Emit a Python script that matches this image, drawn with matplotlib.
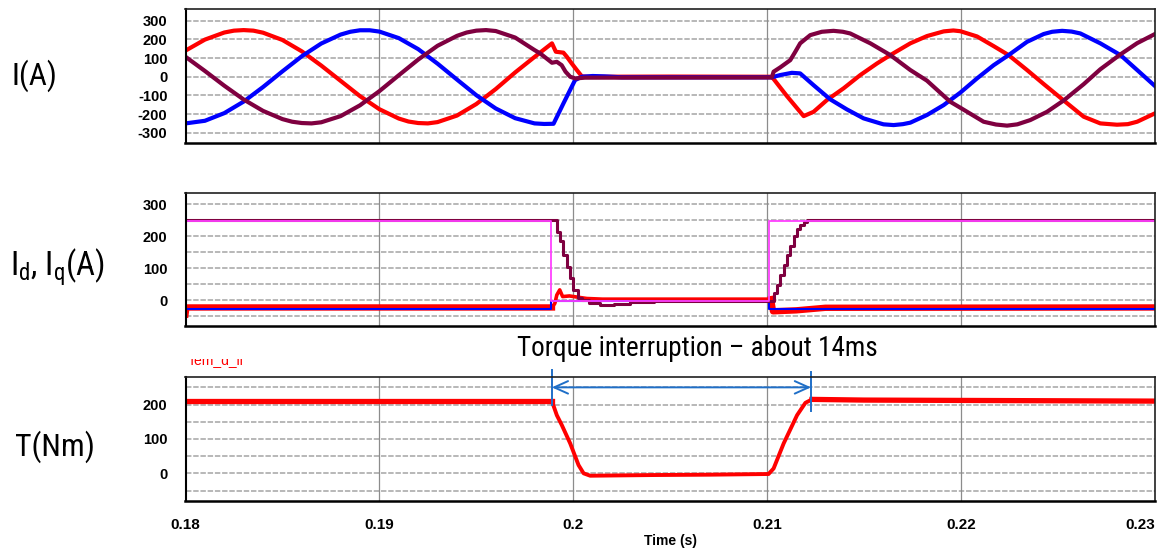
import matplotlib
matplotlib.use("Agg")
import matplotlib.pyplot as plt
from matplotlib import font_manager
from matplotlib.font_manager import FontProperties
from matplotlib.transforms import Bbox, TransformedBbox
import numpy as np

# phase currents (time in ms, current in A)
ia_t = [180, 181, 182, 182.5, 183, 183.5, 184, 185, 186, 187, 188, 189, 190, 191, 191.5, 192, 192.5, 193,
        194, 195, 196, 197, 198,
        198.9, 199.1, 199.49, 199.66, 199.92, 200.18, 200.44, 200.8, 205, 210.24,
        211.02, 211.88, 212.39, 213.08, 213.94, 214.80, 215.66, 216.35, 217.38, 218.24, 219.10, 219.6,
        219.96, 220.82, 221.68, 222.45, 223.40, 224.26, 225.29, 226.32, 227.18, 228.04, 228.6, 229.08, 230.0]
ia = [140, 199, 237, 247, 250, 247, 236, 197, 136, 60, -22, -104, -174, -224, -240, -248, -250, -243,
      -208, -146, -66, 23, 106,
      179, 134, 129, 108, 71, 36, 2, 0, 1, 0,
      -104, -211, -188, -125, -62, 9, 71, 116, 179, 218, 243, 248,
      244, 216, 164, 116, 36, -39, -127, -214, -250, -257, -254, -241, -196]

ib_t = [180, 181, 182, 183, 184, 185, 186, 187, 188, 188.5, 189, 189.5, 190, 191, 192, 193, 194, 195, 196,
        197, 198, 198.5, 198.98, 199.5, 200.09, 200.44, 201.0, 201.6, 202.5, 210.24,
        210.67, 211.27, 211.70, 212.39, 213.25, 214.11, 214.97, 215.83, 216.0, 216.52, 217.0, 217.38,
        218.24, 219.10, 219.96, 220.82, 221.68, 222.45, 223.40, 224.26, 224.7, 225.21, 225.7, 226.15,
        227.18, 228.22, 229.08, 230.0]
ib = [-250, -236, -195, -133, -55, 29, 110, 178, 226, 241, 249, 249, 242, 207, 148, 70, -15, -99, -170,
      -222, -250, -253, -252, -141, -18, 0, 4, 2, -3, -3,
      9, 21, 18, -45, -121, -175, -223, -250, -255, -259, -254, -246,
      -205, -152, -85, -9, 62, 116, 187, 229, 241, 246, 242, 232,
      179, 116, 36, -50]

ic_t = [180, 181, 182, 183, 184, 185, 185.5, 186, 186.5, 187, 188, 189, 190, 191, 192, 193, 194, 194.5,
        195, 195.5, 196, 197, 198,
        198.29, 198.9, 199.15, 199.4, 199.6, 199.84, 200.1, 200.6, 210.24,
        210.33, 210.67, 211.19, 211.45, 211.70, 212.22, 212.82, 213.42, 213.9, 214.28, 215.32, 216.35,
        217.38, 218.24, 219.44, 219.96, 221.16, 221.8, 222.37, 222.9, 223.57, 224.43, 225.29, 226.32,
        227.18, 228.22, 229.08, 230.0]
ic = [107, 31, -48, -122, -183, -227, -241, -248, -250, -244, -211, -153, -77, 8, 92, 166, 219, 237,
      247, 250, 245, 210, 143,
      125, 75, 80, 62, 27, 0, -9, -5, -4,
      27, 50, 89, 134, 179, 223, 241, 246, 241, 232, 179, 116,
      36, -21, -134, -166, -241, -256, -262, -255, -232, -188, -127, -40,
      40, 120, 180, 229]

# dq currents: measured Id (red), reference Id (blue), measured Iq (maroon), reference Iq (magenta)
id_t = [180, 180.05, 198.9, 199.05, 199.15, 199.3, 199.45, 199.8, 200.7, 201.5, 210.2, 210.3, 211.5, 213, 230]
id_meas = [-45, -23, -23, -10, 16, 32, 11, 13, 5, 3, 3, -35, -32, -24, -23]

idref_t = [180, 198.86, 210.08, 230]
idref = [-29, -2, -29, -29]

iq_t = [180, 199.15, 199.32, 199.46, 199.67, 199.84, 200.01, 200.22, 200.44, 200.79, 201.39, 202.08,
        202.94, 204.14, 210.33, 210.50, 210.68, 210.85, 211.02, 211.19, 211.36, 211.54, 211.71, 211.88,
        212.05, 230]
iq_meas = [250, 213, 184, 142, 103, 68, 32, 8, 0, -8, -14, -13,
           -6, -3, 21, 47, 79, 110, 142, 168, 200, 221, 234, 244,
           250, 250]

iqref_t = [180, 198.86, 210.08, 230]
iqref = [247, -4, 247, 247]

# electromagnetic torque (Nm)
te_t = [180, 198.89, 199.15, 199.41, 199.84, 200.27, 200.53, 200.87, 204.14, 207, 210.07, 210.33,
        210.85, 211.54, 211.97, 212.31, 215, 220, 225, 230]
te = [211, 211, 169, 140, 87, 24, 0, -7, -5, -4, -2, 14,
      87, 169, 205, 215, 213, 212, 211, 210]

interruption = (198.89, 212.26)

x_ticks = [0.18, 0.19, 0.2, 0.21, 0.22, 0.23]
x_labels = ["0.18", "0.19", "0.2", "0.21", "0.22", "0.23"]


def narrow_font():
    # look for an Arial-Narrow-like face, otherwise fall back to Roboto
    prefs = ["Liberation Sans Narrow", "Roboto Condensed", "Open Sans Condensed", "Noto Sans Condensed",
             "DejaVu Sans Condensed"]
    found = {}
    for f in font_manager.fontManager.ttflist:
        key = f.name
        base = f.fname.rsplit("/", 1)[-1].lower()
        if "condensed" in base and "dejavusans" in base and "bold" not in base and "oblique" not in base:
            key = "DejaVu Sans Condensed"
        if f.style == "normal" and f.weight in (400, "normal", "regular", "book"):
            found.setdefault(key, f.fname)
    for p in prefs:
        if p in found:
            return FontProperties(fname=found[p])
    return FontProperties(family="Roboto")


label_font = narrow_font()
plt.rcParams["font.family"] = ["Liberation Sans", "DejaVu Sans"]
plt.rcParams["mathtext.default"] = "regular"

W, H = 1158, 551
fig = plt.figure(figsize=(W / 100, H / 100), dpi=100)
renderer = fig.canvas.get_renderer()


def box(x0, y0, x1, y1):
    return [x0 / W, 1 - y1 / H, (x1 - x0) / W, (y1 - y0) / H]


def fitted_text(x, y, s, width, size, ha="left"):
    # size the label so it spans the given pixel width
    fp = label_font.copy()
    fp.set_size(size)
    t = fig.text(x / W, 1 - y / H, s, fontproperties=fp, ha=ha, va="center")
    w = t.get_window_extent(renderer).width
    fp.set_size(size * width / w)
    t.set_fontproperties(fp)
    return t


def style(ax, ylim, yticks, ygrid, show_x=False):
    ax.set_xlim(0.18, 0.23)
    ax.set_ylim(*ylim)
    ax.set_yticks(yticks)
    ax.set_yticklabels([str(v) for v in yticks], fontsize=10.5, fontweight="bold")
    for v in ygrid:
        ax.axhline(v, color="#b2b2b2", lw=1.3, ls=(0, (3, 1)), zorder=0)
    for v in x_ticks[1:-1]:
        ax.axvline(v, color="#8c8c8c", lw=0.9, zorder=0)
    ax.set_xticks(x_ticks)
    if show_x:
        labels = ax.set_xticklabels(x_labels, fontsize=11, fontweight="bold")
        labels[-1].set_horizontalalignment("right")
    else:
        ax.set_xticklabels([])
    ax.tick_params(length=0, pad=13)
    ax.tick_params(axis="x", pad=12)
    for s in ax.spines.values():
        s.set_color("#202020")
        s.set_linewidth(1.2)
    ax.spines["bottom"].set_color("black")
    ax.spines["bottom"].set_linewidth(1.8)
    ax.spines["left"].set_color("black")
    ax.spines["left"].set_linewidth(1.5)


ms = lambda a: np.asarray(a) / 1000.0

# phase currents
ax1 = fig.add_axes(box(185.5, 9, 1155, 143))
ax1.plot(ms(ia_t), ia, color="#ff0000", lw=3.0)
ax1.plot(ms(ib_t), ib, color="#0000ff", lw=3.0)
ax1.plot(ms(ic_t), ic, color="#7f0040", lw=3.0)
style(ax1, (-355, 363), [-300, -200, -100, 0, 100, 200, 300], range(-300, 301, 100))

# dq currents; the measured Id is noisy outside the interruption, drawn as a wide band
ax2 = fig.add_axes(box(185.5, 192.7, 1155, 326))
t_id = ms(id_t)
ax2.plot(t_id[:3], id_meas[:3], color="#ff0000", lw=4.6)
ax2.plot(t_id[2:11], id_meas[2:11], color="#ff0000", lw=2.6)
ax2.plot(t_id[10:], id_meas[10:], color="#ff0000", lw=4.6)
ax2.plot(ms(idref_t), idref, color="#0000ff", lw=1.5, drawstyle="steps-post")
ax2.plot(ms(iq_t), iq_meas, color="#7f0040", lw=2.2, drawstyle="steps-post")
ax2.plot(ms(iqref_t), iqref, color="#ff40ff", lw=1.3, drawstyle="steps-post")
style(ax2, (-81, 336), [0, 100, 200, 300], range(-50, 301, 50))

# torque
ax3 = fig.add_axes(box(185.5, 376.7, 1155, 501))
t_te = ms(te_t)
ax3.plot(t_te[:2], te[:2], color="#ff0000", lw=3.8)
ax3.plot(t_te[1:16], te[1:16], color="#ff0000", lw=2.8)
ax3.plot(t_te[15:], te[15:], color="#ff0000", lw=3.8)
style(ax3, (-80.5, 281), [0, 100, 200], range(-50, 251, 50), show_x=True)
ax3.set_xlabel("Time (s)", fontsize=10, fontweight="bold", labelpad=2)

arrow_c = "#1f6fc8"
t0, t1 = ms(interruption)
ax3.annotate("", xy=(t1, 250), xytext=(t0, 250),
             arrowprops=dict(arrowstyle="<->,head_length=1.0,head_width=0.45",
                             color=arrow_c, lw=1.4, shrinkA=0, shrinkB=0),
             annotation_clip=False)
ax3.plot([t0, t0], [301, 199], color=arrow_c, lw=1.4, clip_on=False)
ax3.plot([t1, t1], [295, 180], color=arrow_c, lw=1.4, clip_on=False)

fitted_text(697, 349, "Torque interruption \u2013 about 14ms", 360, 20, ha="center")

# panel labels
fitted_text(12, 76, "I(A)", 46, 23)
fitted_text(10, 267, r"I$_{\mathregular{d}}$, I$_{\mathregular{q}}$(A)", 95, 23)
fitted_text(15, 447, "T(Nm)", 80, 23)

# red trace legend remnant above the torque plot, partly cut off
rem = fig.text(188 / W, 1 - 364 / H, "Tem_d_ll", color="#ff0000", fontsize=10, va="baseline")
rem.set_clip_box(TransformedBbox(Bbox([[0, 0], [1, 1 - 358.5 / H]]), fig.transFigure))
rem.set_clip_on(True)

fig.savefig("out.png", dpi=100)
